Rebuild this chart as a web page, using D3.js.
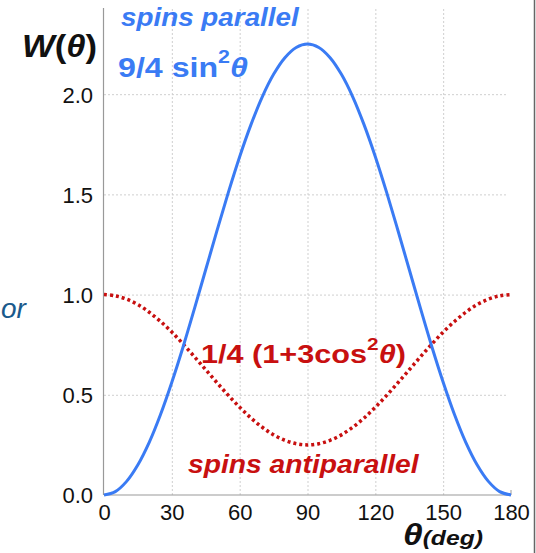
<!DOCTYPE html>
<html>
<head>
<meta charset="utf-8">
<script src="https://cdn.jsdelivr.net/npm/d3@7"></script>
<style>
  body { margin: 0; background: #fff; }
  svg { display: block; font-family: "Liberation Sans", Arial, sans-serif; }
</style>
</head>
<body>
<div id="viewportContainer"></div>
<script>
/* --- data --- */
const thetaDeg = [0, 5, 10, 15, 20, 25, 30, 35, 40, 45, 50, 55, 60, 65, 70, 75, 80, 85, 90,
  95, 100, 105, 110, 115, 120, 125, 130, 135, 140, 145, 150, 155, 160, 165, 170, 175, 180];
// spins parallel : 9/4 sin^2
const wParallel = [0, 0.017, 0.068, 0.151, 0.263, 0.402, 0.563, 0.740, 0.930, 1.125, 1.320,
  1.510, 1.688, 1.848, 1.987, 2.099, 2.182, 2.233, 2.25, 2.233, 2.182, 2.099, 1.987, 1.848,
  1.688, 1.510, 1.320, 1.125, 0.930, 0.740, 0.563, 0.402, 0.263, 0.151, 0.068, 0.017, 0];
// spins antiparallel : 1/4 (1+3cos^2)
const wAntiparallel = [1.0, 0.994, 0.977, 0.950, 0.912, 0.866, 0.813, 0.753, 0.690, 0.625,
  0.560, 0.497, 0.438, 0.384, 0.338, 0.300, 0.273, 0.256, 0.25, 0.256, 0.273, 0.300, 0.338,
  0.384, 0.438, 0.497, 0.560, 0.625, 0.690, 0.753, 0.813, 0.866, 0.912, 0.950, 0.977, 0.994, 1.0];
const xTicks = [0, 30, 60, 90, 120, 150, 180];
const yTicks = [0, 0.5, 1.0, 1.5, 2.0];

const blue = "#3a7bf4";
const red = "#c81010";

const svg = d3.select("#viewportContainer").append("svg")
  .attr("width", 536).attr("height", 553);

const x = d3.scaleLinear().domain([0, 180]).range([104, 511]);
const y = d3.scaleLinear().domain([0, 2.43]).range([495, 8]);

/* --- grid --- */
const gx = svg.append("g").attr("transform", "translate(0,495)")
  .call(d3.axisBottom(x).tickValues(xTicks).tickSize(-487).tickPadding(9));
gx.select(".domain").remove();
gx.selectAll(".tick line")
  .attr("stroke", "#cfcfcf").attr("stroke-dasharray", "2,2")
  .filter(d => d === 0 || d === 180).remove();
gx.selectAll(".tick text")
  .attr("font-size", 22).attr("fill", "#111")
  .attr("font-family", "Liberation Sans, Arial, sans-serif");

const gy = svg.append("g").attr("transform", "translate(104,0)")
  .call(d3.axisLeft(y).tickValues(yTicks).tickFormat(d3.format(".1f")).tickSize(-403).tickPadding(11));
gy.select(".domain").remove();
gy.selectAll(".tick line")
  .attr("stroke", "#cfcfcf").attr("stroke-dasharray", "2,2")
  .filter(d => d === 0).remove();
gy.selectAll(".tick text")
  .attr("font-size", 22).attr("fill", "#111").attr("dy", "0.36em")
  .attr("font-family", "Liberation Sans, Arial, sans-serif");

// axes lines
svg.append("line").attr("x1", x(0)).attr("x2", x(180)).attr("y1", y(0)).attr("y2", y(0))
  .attr("stroke", "#999").attr("stroke-width", 1.2);
svg.append("line").attr("x1", x(180)).attr("x2", x(180)).attr("y1", y(0) - 5).attr("y2", y(0))
  .attr("stroke", "#999");
svg.append("line").attr("x1", x(0) - 0.5).attr("x2", x(0) - 0.5).attr("y1", y(2.43)).attr("y2", y(0))
  .attr("stroke", "#999").attr("stroke-width", 1.2);

// right frame edge
svg.append("line").attr("x1", 534.5).attr("x2", 534.5).attr("y1", 0).attr("y2", 553)
  .attr("stroke", "#666").attr("stroke-width", 1.5);

/* --- curves --- */
const line = d3.line().curve(d3.curveCatmullRom);

svg.append("path")
  .attr("d", line(thetaDeg.map((t, i) => [x(t), y(wAntiparallel[i])])))
  .attr("fill", "none").attr("stroke", red).attr("stroke-width", 3.5)
  .attr("stroke-dasharray", "3,3");

svg.append("path")
  .attr("d", line(thetaDeg.map((t, i) => [x(t), y(wParallel[i])])))
  .attr("fill", "none").attr("stroke", blue).attr("stroke-width", 3);

/* --- labels (the slide's text is stretched sideways, so scale to width) --- */
function fitText(t, px, py, width) {
  const w = t.node().getBBox().width;
  t.attr("transform", `translate(${px},${py}) scale(${width / w},1)`);
}

const wt = svg.append("text").attr("font-size", 32).attr("font-weight", "bold").attr("fill", "#111");
wt.append("tspan").attr("font-style", "italic").text("W");
wt.append("tspan").text("(");
wt.append("tspan").attr("font-style", "italic").text("θ");
wt.append("tspan").text(")");
fitText(wt, 22, 57, 75);

const sp = svg.append("text").attr("font-size", 25).attr("font-weight", "bold")
  .attr("font-style", "italic").attr("fill", blue).text("spins parallel");
fitText(sp, 121, 26, 179);

const ft = svg.append("text").attr("font-size", 27).attr("font-weight", "bold").attr("fill", blue);
ft.append("tspan").text("9/4 sin");
ft.append("tspan").attr("font-size", 18).attr("dy", -14).text("2");
ft.append("tspan").attr("font-style", "italic").attr("dy", 14).text("θ");
fitText(ft, 118, 77, 130);

const gt = svg.append("text").attr("font-size", 25).attr("font-weight", "bold").attr("fill", red);
gt.append("tspan").text("1/4 (1+3cos");
gt.append("tspan").attr("font-size", 17).attr("dy", -13).text("2");
gt.append("tspan").attr("font-style", "italic").attr("dy", 13).text("θ");
gt.append("tspan").text(")");
fitText(gt, 201, 363, 205);

const sa = svg.append("text").attr("font-size", 25).attr("font-weight", "bold")
  .attr("font-style", "italic").attr("fill", red).text("spins antiparallel");
fitText(sa, 188, 473, 232);

const xt = svg.append("text").attr("font-weight", "bold").attr("font-style", "italic").attr("fill", "#111");
xt.append("tspan").attr("font-size", 30).text("θ");
xt.append("tspan").attr("font-size", 21).text("(deg)");
fitText(xt, 403, 545, 80);

// word from the slide at the left edge
svg.append("text").attr("x", 1).attr("y", 318)
  .attr("font-size", 28).attr("font-style", "italic").attr("fill", "#1a5a8c")
  .text("or");
</script>
</body>
</html>
